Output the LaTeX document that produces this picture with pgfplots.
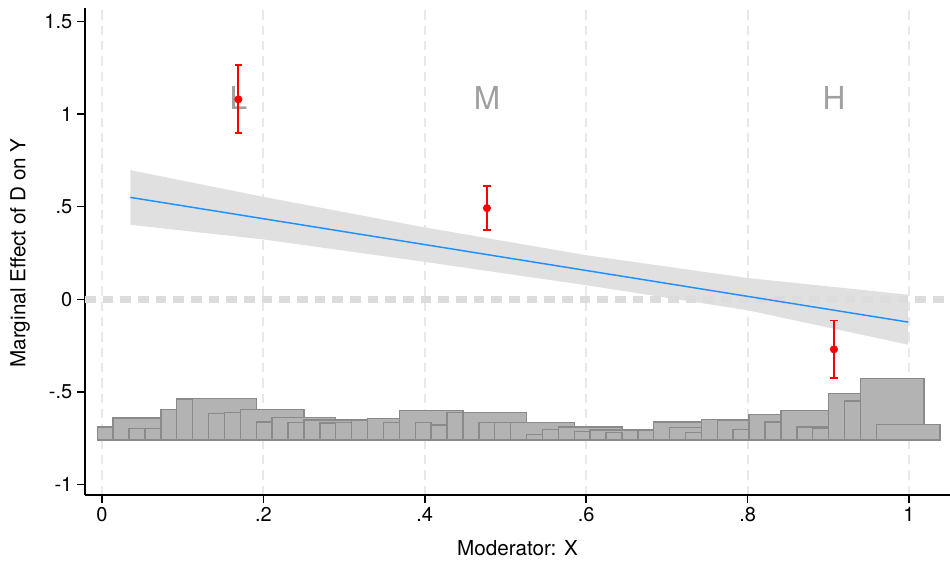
\documentclass[border=0pt]{standalone}
\usepackage{pgfplots}
\pgfplotsset{compat=1.18}
\usepackage{fontspec}
\setmainfont{TeX Gyre Heros}

\definecolor{histfill}{RGB}{179,179,179}
\definecolor{histedge}{RGB}{138,138,138}
\definecolor{bandgray}{RGB}{224,224,224}
\definecolor{linblue}{RGB}{30,144,255}
\definecolor{gridgray}{RGB}{232,232,232}
\definecolor{zerogray}{RGB}{220,220,220}
\definecolor{lettergray}{RGB}{160,160,160}

% one histogram rectangle: left, right, top (base at -0.759)
\newcommand{\histrect}[3]{\addplot[histbar] coordinates {(#1,-0.759) (#1,#3) (#2,#3) (#2,-0.759)} --cycle;}

\begin{document}
\begin{tikzpicture}
\useasboundingbox (0,0) rectangle (712.5pt,420.75pt);
\begin{axis}[
  at={(63.75pt,49.5pt)}, anchor=south west,
  scale only axis, width=648.75pt, height=365.25pt,
  xmin=-0.021, xmax=1.0508, ymin=-1.056, ymax=1.572,
  axis x line*=bottom, axis y line*=left,
  axis line style={-, line width=1.3pt, black},
  xtick={0,0.2,0.4,0.6,0.8,1}, xticklabels={0,.2,.4,.6,.8,1},
  ytick={-1,-0.5,0,0.5,1,1.5}, yticklabels={-1,-.5,0,.5,1,1.5},
  tick align=outside, major tick length=6pt,
  tick style={black, line width=1.2pt},
  tick label style={font=\fontsize{15}{17}\selectfont},
  xmajorgrids=true,
  major grid style={gridgray, line width=1.5pt, dash pattern=on 7pt off 4.5pt},
  xlabel={Moderator: X}, ylabel={Marginal Effect of D on Y},
  label style={font=\fontsize{15.5}{18}\selectfont},
  xlabel style={at={(axis description cs:0.5,-0.1088)}, anchor=center},
  ylabel style={at={(axis description cs:-0.0751,0.497)}, anchor=center},
  histbar/.style={fill=histfill, draw=histedge, line width=1.1pt, line join=miter},
]
% confidence band
\addplot[fill=bandgray, draw=none] coordinates {
  (0.0352,0.697) (0.2,0.553) (0.4,0.388) (0.6,0.238) (0.8,0.115) (0.999,0.025)
  (0.999,-0.245) (0.8,-0.059) (0.6,0.076) (0.4,0.202) (0.2,0.323) (0.0352,0.402)} --cycle;
% zero reference line
\addplot[zerogray, line width=5.25pt, dash pattern=on 8pt off 5.25pt] coordinates {(-0.021,0) (1.0508,0)};
% linear marginal effect
\addplot[linblue, line width=1.1pt] coordinates {(0.0352,0.550) (0.999,-0.123)};

% histogram, wide rectangles
\histrect{0.0139}{0.0730}{-0.640}
\histrect{0.1124}{0.1912}{-0.536}
\histrect{0.1715}{0.2503}{-0.596}
\histrect{0.2109}{0.2897}{-0.639}
\histrect{0.2503}{0.3291}{-0.651}
\histrect{0.3291}{0.3685}{-0.644}
\histrect{0.3685}{0.4473}{-0.599}
\histrect{0.4473}{0.5261}{-0.610}
\histrect{0.5064}{0.5852}{-0.664}
\histrect{0.5655}{0.6443}{-0.688}
\histrect{0.6049}{0.6837}{-0.706}
\histrect{0.6837}{0.7428}{-0.661}
\histrect{0.7034}{0.7428}{-0.691}
\histrect{0.7625}{0.8019}{-0.651}
\histrect{0.8019}{0.8413}{-0.621}
\histrect{0.8413}{0.9004}{-0.599}
\histrect{0.8610}{0.9004}{-0.688}
\histrect{0.9004}{0.9398}{-0.507}
\histrect{0.9398}{1.0186}{-0.426}
\histrect{0.9595}{1.0383}{-0.675}
% histogram, narrow rectangles
\histrect{-0.0058}{0.0139}{-0.688}
\histrect{0.0336}{0.0533}{-0.696}
\histrect{0.0533}{0.0730}{-0.696}
\histrect{0.0730}{0.0927}{-0.595}
\histrect{0.0927}{0.1124}{-0.538}
\histrect{0.1321}{0.1518}{-0.615}
\histrect{0.1518}{0.1715}{-0.611}
\histrect{0.1912}{0.2109}{-0.661}
\histrect{0.2306}{0.2503}{-0.664}
\histrect{0.2700}{0.2897}{-0.668}
\histrect{0.2897}{0.3094}{-0.666}
\histrect{0.3094}{0.3291}{-0.655}
\histrect{0.3488}{0.3685}{-0.664}
\histrect{0.3882}{0.4079}{-0.664}
\histrect{0.4079}{0.4276}{-0.678}
\histrect{0.4276}{0.4473}{-0.612}
\histrect{0.4670}{0.4867}{-0.664}
\histrect{0.4867}{0.5064}{-0.664}
\histrect{0.5261}{0.5458}{-0.729}
\histrect{0.5458}{0.5655}{-0.703}
\histrect{0.5852}{0.6049}{-0.712}
\histrect{0.6246}{0.6443}{-0.720}
\histrect{0.6640}{0.6837}{-0.709}
\histrect{0.7231}{0.7428}{-0.718}
\histrect{0.7428}{0.7625}{-0.650}
\histrect{0.7822}{0.8019}{-0.702}
\histrect{0.8216}{0.8413}{-0.661}
\histrect{0.8807}{0.9004}{-0.696}
\histrect{0.9201}{0.9398}{-0.550}

% bin labels
\node[font=\fontsize{23.7}{26}\selectfont, text=lettergray] at (axis cs:0.169,1.085) {L};
\node[font=\fontsize{23.7}{26}\selectfont, text=lettergray] at (axis cs:0.477,1.085) {M};
\node[font=\fontsize{23.7}{26}\selectfont, text=lettergray] at (axis cs:0.907,1.085) {H};

% binned estimates
\addplot[red, only marks, mark=*, mark size=2.8pt,
  error bars/.cd, y dir=both, y explicit,
  error bar style={red, line width=1.3pt},
  error mark options={red, line width=1.3pt, mark size=2.8pt, rotate=90}]
  coordinates {
  (0.169,1.079) += (0,0.184) -= (0,0.183)
  (0.477,0.492) += (0,0.121) -= (0,0.119)
  (0.907,-0.270) += (0,0.155) -= (0,0.155)
  };
\end{axis}
\end{tikzpicture}
\end{document}
